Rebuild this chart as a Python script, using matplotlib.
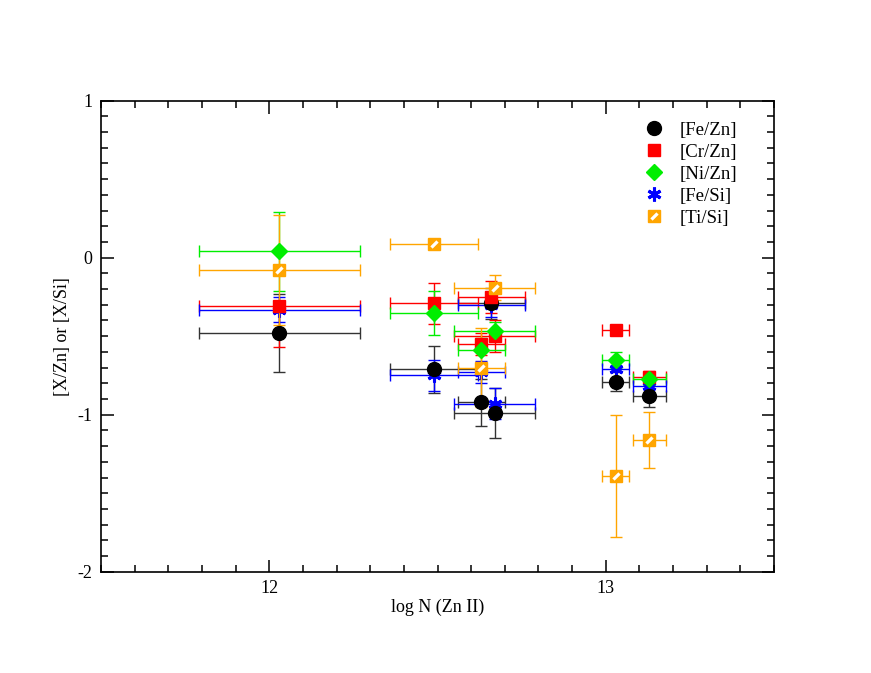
import matplotlib.pyplot as plt
from matplotlib.legend_handler import HandlerTuple
from matplotlib.path import Path
from matplotlib.ticker import MultipleLocator

plt.rcParams['font.family'] = ['Liberation Serif', 'DejaVu Serif']
plt.rcParams['axes.unicode_minus'] = False

# log N(Zn II) positions of the absorbers
fezn_x = [12.03, 12.49, 12.63, 12.66, 12.67, 13.03, 13.13]
fezn_y = [-0.48, -0.71, -0.92, -0.29, -0.99, -0.79, -0.88]
fezn_xerr = [0.24, 0.13, 0.07, 0.10, 0.12, 0.04, 0.05]
fezn_yerr = [0.25, 0.15, 0.15, 0.10, 0.16, 0.06, 0.07]

crzn_x = [12.03, 12.49, 12.63, 12.66, 12.67, 13.03, 13.13]
crzn_y = [-0.31, -0.29, -0.55, -0.25, -0.50, -0.46, -0.76]
crzn_xerr = [0.24, 0.13, 0.07, 0.10, 0.12, 0.04, 0.05]
crzn_yerr_lo = [0.26, 0.13, 0.07, 0.10, 0.10, 0.03, 0.04]
crzn_yerr_hi = [0.03, 0.13, 0.07, 0.10, 0.10, 0.03, 0.04]

nizn_x = [12.03, 12.49, 12.63, 12.67, 13.03, 13.13]
nizn_y = [0.04, -0.35, -0.59, -0.47, -0.65, -0.77]
nizn_xerr = [0.24, 0.13, 0.07, 0.12, 0.04, 0.05]
nizn_yerr = [0.25, 0.14, 0.08, 0.06, 0.05, 0.04]

fesi_x = [12.03, 12.49, 12.63, 12.66, 12.67, 13.03, 13.13]
fesi_y = [-0.33, -0.75, -0.73, -0.30, -0.93, -0.71, -0.82]
fesi_xerr = [0.24, 0.13, 0.07, 0.10, 0.12, 0.04, 0.05]
fesi_yerr = [0.08, 0.10, 0.07, 0.08, 0.10, 0.07, 0.06]

tisi_x = [12.03, 12.49, 12.63, 12.67, 13.03, 13.13]
tisi_y = [-0.08, 0.09, -0.70, -0.19, -1.39, -1.16]
tisi_xerr = [0.24, 0.13, 0.07, 0.12, 0.04, 0.05]
tisi_yerr = [0.35, 0.03, 0.25, 0.08, 0.39, 0.18]

ORANGE = '#ffa500'
GREEN = '#00ee00'
# diagonal white band drawn on top of the orange squares
STRIPE = Path([(-1.0, -0.45), (-0.45, -1.0), (1.0, 0.45), (0.45, 1.0), (-1.0, -0.45)],
              [Path.MOVETO, Path.LINETO, Path.LINETO, Path.LINETO, Path.CLOSEPOLY])

fig = plt.figure(figsize=(8.71, 6.73), dpi=100)
ax = fig.add_axes([0.116, 0.1505, 0.7726, 0.6999])

eb = dict(linestyle='none', elinewidth=1.0, capsize=4.5, capthick=1.0)

ax.errorbar(fezn_x, fezn_y, xerr=fezn_xerr, yerr=fezn_yerr, fmt='o',
            color='black', ecolor='#333333', ms=10, **eb)
ax.errorbar(crzn_x, crzn_y, xerr=crzn_xerr,
            yerr=[crzn_yerr_lo, crzn_yerr_hi], fmt='s',
            color='red', ms=8.5, **eb)
ax.errorbar(nizn_x, nizn_y, xerr=nizn_xerr, yerr=nizn_yerr, fmt='D',
            color=GREEN, ms=8, **eb)
ax.errorbar(fesi_x, fesi_y, xerr=fesi_xerr, yerr=fesi_yerr,
            fmt='none', ecolor='blue', **eb)
h_fs_m, = ax.plot(fesi_x, fesi_y, linestyle='none', marker=(6, 2, 0),
                  ms=10, mew=2.2, color='blue')
ax.errorbar(tisi_x, tisi_y, xerr=tisi_xerr, yerr=tisi_yerr, fmt='s',
            color=ORANGE, ms=9, **eb)
h_ti_s, = ax.plot(tisi_x, tisi_y, linestyle='none', marker=STRIPE,
                  ms=6, mfc='white', mec='white', mew=0, zorder=3)

ax.set_xlim(11.5, 13.5)
ax.set_ylim(-2, 1)
ax.xaxis.set_major_locator(MultipleLocator(1))
ax.xaxis.set_minor_locator(MultipleLocator(0.1))
ax.yaxis.set_major_locator(MultipleLocator(1))
ax.yaxis.set_minor_locator(MultipleLocator(0.1))
ax.tick_params(which='both', direction='in', top=True, right=True,
               width=1.1, labelsize=13, pad=6)
ax.tick_params(which='major', length=9)
ax.tick_params(which='minor', length=5)
for sp in ax.spines.values():
    sp.set_linewidth(1.2)

ax.set_xlabel('log N (Zn II)', fontsize=13, labelpad=1)
ax.set_ylabel('[X/Zn] or [X/Si]', fontsize=13)
ax.yaxis.set_label_coords(-0.045, 0.5)

mk_fe, = ax.plot([], [], 'o', color='black', ms=10)
mk_cr, = ax.plot([], [], 's', color='red', ms=8.5)
mk_ni, = ax.plot([], [], 'D', color=GREEN, ms=8)
mk_ti, = ax.plot([], [], 's', color=ORANGE, ms=9)

ax.legend([mk_fe, mk_cr, mk_ni, h_fs_m, (mk_ti, h_ti_s)],
          ['[Fe/Zn]', '[Cr/Zn]', '[Ni/Zn]', '[Fe/Si]', '[Ti/Si]'],
          handler_map={tuple: HandlerTuple(ndivide=1)},
          loc='upper right', bbox_to_anchor=(0.97, 0.991), frameon=False,
          fontsize=13.5, handlelength=1.0, handletextpad=0.85,
          labelspacing=0.26, numpoints=1)

fig.savefig('out.png', dpi=100)
